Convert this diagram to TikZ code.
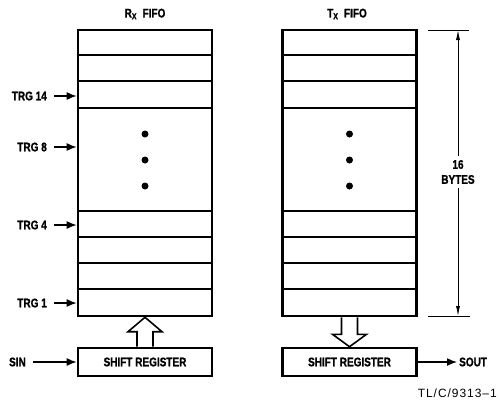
\documentclass[tikz,border=0pt]{standalone}
\usepackage{fontspec}
\setmainfont{Liberation Sans}[FakeStretch=0.8, BoldFont={Liberation Sans Bold}, BoldFeatures={FakeStretch=0.8, FakeBold=1.2}]
\newfontfamily\notefont{Liberation Sans}[LetterSpace=8]
\usetikzlibrary{arrows.meta,calc,positioning}
\tikzset{
  lbl/.style={font=\fontsize{12.5}{15}\selectfont\bfseries, inner sep=2pt},
  fifo/.style={draw, line width=2.6pt, minimum width=134pt, minimum height=286pt, inner sep=0pt},
  shiftreg/.style={lbl, draw, line width=2.6pt, minimum width=134pt, minimum height=28pt, inner sep=0pt},
  row/.style={line width=1.8pt},
  sig/.style={-{Latex[length=10pt,width=8pt]}, line width=1.4pt, shorten <=5pt},
  dim/.style={-{Latex[length=10pt,width=4pt]}, line width=0.8pt},
  tick/.style={line width=0.8pt},
  hollow/.style={draw, line width=1.6pt, line join=miter},
  dot/.style={circle, fill, inner sep=0pt, minimum size=7pt},
}

\begin{document}
\begin{tikzpicture}[x=1pt, y=-1pt]
  \useasboundingbox (0,0) rectangle (500,400);

  % FIFOs and titles
  \node[fifo] (rx) at (145,173) {};
  \node[fifo] (tx) at (349.5,173) {};
  \node[lbl] (rxtitle) at (145,14) {R\textsubscript{X}\ \ FIFO};
  \node[lbl] (txtitle) at (347,14) {T\textsubscript{X}\ \ FIFO};

  % byte rows
  \foreach \f in {rx,tx}
    \foreach \y in {55,81,108,211,237,263,289}
      \draw[row] (\f.west |- 0,\y) -- (\f.east |- 0,\y);

  % dots
  \foreach \f in {rx,tx}
    \foreach \y [count=\i] in {134,160,186}
      \node[dot] (\f dot\i) at (\f.center |- 0,\y) {};

  % trigger levels
  \foreach \t/\y in {14/96, 8/147, 4/225, 1/303} {
    \node[lbl, anchor=east] (trg\t) at (49,\y) {TRG \t};
    \draw[sig] (trg\t) -- (trg\t -| rx.west);
  }

  % shift registers
  \node[shiftreg] (rxsr) at (145,362) {SHIFT REGISTER};
  \node[shiftreg] (txsr) at (349.5,362) {SHIFT REGISTER};

  \node[lbl, anchor=east] (sin) at (28,362) {SIN};
  \draw[sig] (sin) -- (rxsr);
  \node[lbl, anchor=west] (sout) at (457,362) {SOUT};
  \draw[sig, shorten <=0pt] (txsr) -- (sout);

  % hollow arrows
  \draw[hollow] ($(rxsr.north)+(-8,0)$) -- ($(rxsr.north)+(-8,-15)$)
    -- ($(rxsr.north)+(-17,-15)$) -- (rx.south)
    -- ($(rxsr.north)+(17,-15)$) -- ($(rxsr.north)+(8,-15)$)
    -- ($(rxsr.north)+(8,0)$);
  \draw[hollow] ($(tx.south)+(-8,0)$) -- ($(tx.south)+(-8,17)$)
    -- ($(tx.south)+(-17,17)$) -- (txsr.north)
    -- ($(tx.south)+(17,17)$) -- ($(tx.south)+(8,17)$)
    -- ($(tx.south)+(8,0)$);

  % 16 bytes dimension
  \coordinate (dimtop) at (458,30);
  \coordinate (dimbot) at (458,316);
  \draw[tick] ([xshift=-30pt]dimtop) -- ([xshift=11pt]dimtop);
  \draw[tick] ([xshift=-30pt]dimbot) -- ([xshift=12pt]dimbot);
  \node[lbl, align=center, inner sep=4pt] (bytes) at (458,172) {16\\BYTES};
  \draw[dim] (bytes) -- (dimtop);
  \draw[dim] (bytes) -- (dimbot);

  % figure number
  \node[font=\notefont\fontsize{12}{14}\selectfont, anchor=east, inner sep=0pt] (fignum) at (497,393) {TL/C/9313\textendash 1};

\end{tikzpicture}
\end{document}
